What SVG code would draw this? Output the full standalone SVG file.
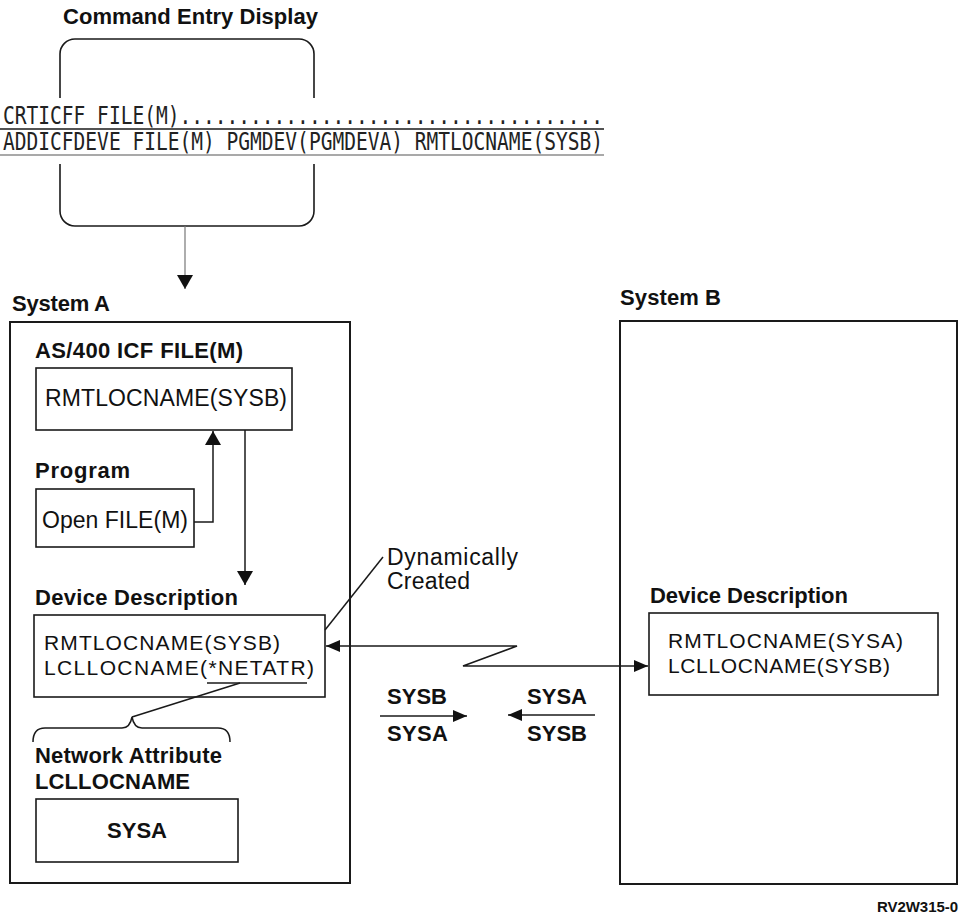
<svg xmlns="http://www.w3.org/2000/svg" width="964" height="923" viewBox="0 0 964 923">
<style>
.t{font-family:"Liberation Sans",Arial,sans-serif;fill:#111}
.b{font-weight:bold;font-size:22px}
.r{font-size:23px}
.r2{font-size:21px}
.m{font-family:"DejaVu Sans Mono","Liberation Mono",monospace;font-size:24px;fill:#222}
.box{fill:none;stroke:#1a1a1a;stroke-width:1.6}
.sys{fill:none;stroke:#1a1a1a;stroke-width:2}
.ln{fill:none;stroke:#1a1a1a;stroke-width:1.5}
</style>
<defs>
<marker id="ah" viewBox="0 0 14 12" refX="14" refY="6" markerWidth="14" markerHeight="12" markerUnits="userSpaceOnUse" orient="auto-start-reverse">
<path d="M0,0 L14,6 L0,12 Z" fill="#111"/>
</marker>
<marker id="ahb" viewBox="0 0 14 16" refX="14" refY="8" markerWidth="14" markerHeight="16" markerUnits="userSpaceOnUse" orient="auto">
<path d="M0,0 L14,8 L0,16 Z" fill="#111"/>
</marker>
</defs>

<g id="command-entry">
<text class="t b" x="63" y="24" textLength="255">Command Entry Display</text>
<path class="box" d="M60,98 V54 A15,15 0 0 1 75,39 H299 A15,15 0 0 1 314,54 V98"/>
<path class="box" d="M60,164 V211 A15,15 0 0 0 75,226 H299 A15,15 0 0 0 314,211 V164"/>
<text class="m" x="3" y="124" textLength="600" lengthAdjust="spacingAndGlyphs">CRTICFF FILE(M)....................................</text>
<line class="ln" x1="0" y1="129" x2="604" y2="129"/>
<text class="m" x="3" y="150" textLength="600" lengthAdjust="spacingAndGlyphs">ADDICFDEVE FILE(M) PGMDEV(PGMDEVA) RMTLOCNAME(SYSB)</text>
<line x1="0" y1="155" x2="604" y2="155" stroke="#555" stroke-width="1.2"/>
</g>

<g id="system-a">
<text class="t b" x="12" y="311" textLength="98">System A</text>
<rect class="sys" x="10" y="322" width="340" height="561"/>
</g>

<g id="icf-file">
<text class="t b" x="35" y="358" textLength="208">AS/400 ICF FILE(M)</text>
<rect class="box" x="36" y="368" width="256" height="62"/>
<text class="t r" x="45" y="406" textLength="242">RMTLOCNAME(SYSB)</text>
</g>

<g id="program">
<text class="t b" x="35" y="478" textLength="95">Program</text>
<rect class="box" x="36" y="489" width="158" height="58"/>
<text class="t r" x="42" y="528" textLength="146">Open FILE(M)</text>
</g>

<g id="device-description-a">
<text class="t b" x="35" y="605" textLength="203">Device Description</text>
<rect class="box" x="34" y="615" width="291" height="82"/>
<text class="t r2" x="44" y="650" textLength="236">RMTLOCNAME(SYSB)</text>
<text class="t r2" x="44" y="675" textLength="270">LCLLOCNAME(*NETATR)</text>
<line class="ln" x1="207" y1="683" x2="307" y2="683"/>
</g>

<g id="network-attribute">
<path class="ln" d="M33,742 Q33,728 45,728 H122 Q130,728 132,717 Q134,728 142,728 H218 Q230,728 230,742"/>
<text class="t b" x="35" y="763" textLength="187">Network Attribute</text>
<text class="t b" x="35" y="789" textLength="155">LCLLOCNAME</text>
<rect class="box" x="36" y="799" width="202" height="63"/>
<text class="t b" x="137" y="838" text-anchor="middle">SYSA</text>
</g>

<g id="dynamically-created">
<text class="t r" x="387" y="565" textLength="131">Dynamically</text>
<text class="t r" x="387" y="589" textLength="83">Created</text>
</g>

<g id="session-labels">
<text class="t b" x="387" y="704" textLength="60">SYSB</text>
<text class="t b" x="387" y="741" textLength="61">SYSA</text>
<text class="t b" x="527" y="704" textLength="60">SYSA</text>
<text class="t b" x="527" y="741" textLength="60">SYSB</text>
</g>

<g id="system-b">
<text class="t b" x="620" y="305" textLength="101">System B</text>
<rect class="sys" x="620" y="321" width="337" height="563"/>
</g>

<g id="device-description-b">
<text class="t b" x="650" y="603" textLength="198">Device Description</text>
<rect class="box" x="649" y="613" width="289" height="82"/>
<text class="t r2" x="668" y="648" textLength="235">RMTLOCNAME(SYSA)</text>
<text class="t r2" x="668" y="673" textLength="222">LCLLOCNAME(SYSB)</text>
</g>

<text class="t" x="958" y="912" text-anchor="end" font-weight="bold" font-size="15" textLength="81">RV2W315-0</text>

<g id="connectors">
<line x1="185" y1="226" x2="185" y2="289" stroke="#777" stroke-width="1.2" marker-end="url(#ahb)"/>
<path class="ln" d="M194,522 H213 V431" marker-end="url(#ahb)"/>
<path class="ln" d="M245,430 V585" marker-end="url(#ahb)"/>
<path class="ln" d="M326,646 H517 L463,666 H648" marker-start="url(#ah)" marker-end="url(#ah)"/>
<line class="ln" x1="325" y1="630" x2="383" y2="557"/>
<line class="ln" x1="240" y1="683" x2="132" y2="717"/>
<line class="ln" x1="380" y1="716" x2="467" y2="716" marker-end="url(#ah)"/>
<line class="ln" x1="595" y1="715" x2="508" y2="715" marker-end="url(#ah)"/>
</g>
</svg>
